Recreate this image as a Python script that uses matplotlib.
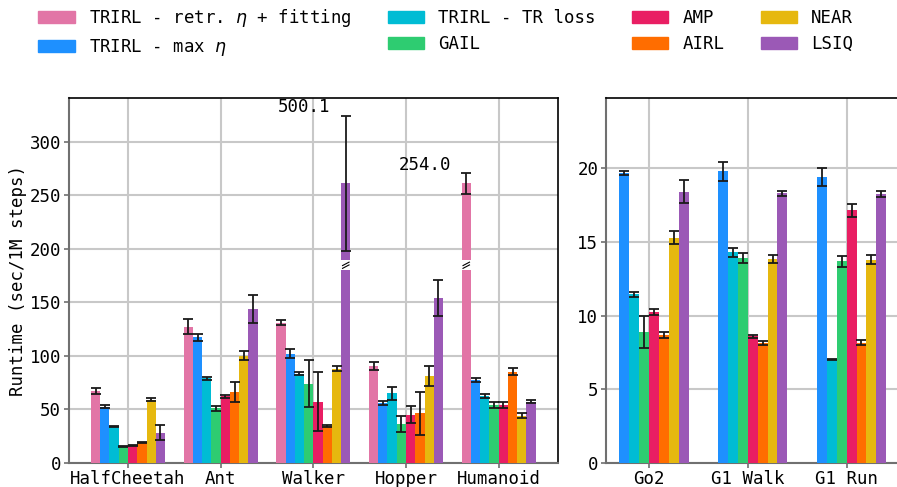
import numpy as np
import matplotlib.pyplot as plt

plt.rcParams['font.family'] = 'DejaVu Sans Mono'
plt.rcParams['mathtext.fontset'] = 'dejavusans'
plt.rcParams['font.size'] = 12.5

methods = ['TRIRL - retr. $\\eta$ + fitting', 'TRIRL - max $\\eta$', 'TRIRL - TR loss',
           'GAIL', 'AMP', 'AIRL', 'NEAR', 'LSIQ']
colors = ['#e275a6', '#1e90ff', '#00bcd4', '#2ecc71', '#e91e63', '#ff6d00', '#e6b80f', '#9b59b6']

# MuJoCo tasks (left panel)
left_envs = ['HalfCheetah', 'Ant', 'Walker', 'Hopper', 'Humanoid']
halfcheetah_mean = [67, 52.5, 34, 15, 16, 19, 59, 28]
halfcheetah_std = [2.5, 1, 0.7, 0.5, 0.5, 0.5, 1.5, 7]
ant_mean = [127, 117, 79, 51, 62, 66, 100, 144]
ant_std = [7, 3, 1.5, 2.3, 1.5, 9, 4, 13]
walker_mean = [131, 102, 83, 74, 57, 34.5, 88, 500.1]
walker_std = [2.3, 4, 1.5, 22, 27.5, 1, 2.3, 63]
hopper_mean = [90.5, 56, 65, 36, 45, 46, 81, 154]
hopper_std = [4, 2, 6, 7.3, 8, 20, 9, 17]
humanoid_mean = [254.0, 77, 62.5, 54, 54, 85, 44, 57]
humanoid_std = [9.5, 2, 2, 2.5, 3, 3.5, 2.3, 1.5]

# robot tasks (right panel), no retr. eta variant
right_envs = ['Go2', 'G1 Walk', 'G1 Run']
go2_mean = [np.nan, 19.7, 11.45, 8.9, 10.25, 8.7, 15.3, 18.4]
go2_std = [np.nan, 0.12, 0.17, 1.1, 0.2, 0.2, 0.44, 0.78]
g1_walk_mean = [np.nan, 19.8, 14.3, 13.9, 8.6, 8.15, 13.85, 18.3]
g1_walk_std = [np.nan, 0.65, 0.3, 0.33, 0.1, 0.15, 0.25, 0.16]
g1_run_mean = [np.nan, 19.4, 7.0, 13.7, 17.15, 8.15, 13.8, 18.25]
g1_run_std = [np.nan, 0.63, 0.05, 0.37, 0.45, 0.17, 0.3, 0.18]

# broken-axis display for very tall bars
BREAK_THRESHOLD = 200
BREAK_LOW, BREAK_HIGH, BREAK_TOP = 180, 189, 261

left_mean = np.array([halfcheetah_mean, ant_mean, walker_mean, hopper_mean, humanoid_mean])
left_std = np.array([halfcheetah_std, ant_std, walker_std, hopper_std, humanoid_std])
right_mean = np.array([go2_mean, g1_walk_mean, g1_run_mean])
right_std = np.array([go2_std, g1_walk_std, g1_run_std])

W, H = 897, 487
fig = plt.figure(figsize=(W / 100, H / 100), dpi=100)
ax_l = fig.add_axes([68.7 / W, (H - 462.7) / H, (558 - 68.7) / W, (462.7 - 98.3) / H])
ax_r = fig.add_axes([606 / W, (H - 462.7) / H, (898 - 606) / W, (462.7 - 98.3) / H])

width = 0.1
err_kw = dict(fmt='none', ecolor='#1a1a1a', elinewidth=1.3, capsize=3.3, capthick=1.3, zorder=4)


def draw_panel(ax, envs, means, stds):
    x = np.arange(len(envs))
    for i, (name, c) in enumerate(zip(methods, colors)):
        xs = x + (i - 3.5) * width
        for j in range(len(envs)):
            m, s = means[j, i], stds[j, i]
            if np.isnan(m):
                continue
            if m > BREAK_THRESHOLD:
                ax.bar(xs[j], BREAK_LOW, width, color=c, zorder=3)
                ax.bar(xs[j], BREAK_TOP - BREAK_HIGH, width, bottom=BREAK_HIGH, color=c, zorder=3)
                ax.errorbar(xs[j], BREAK_TOP, yerr=s, **err_kw)
                mid = (BREAK_LOW + BREAK_HIGH) / 2
                for dy in (-1.3, 1.3):
                    ax.plot([xs[j] - 0.035, xs[j] + 0.035], [mid + dy - 1.6, mid + dy + 1.6],
                            color='black', lw=0.8, zorder=5)
                ax.text(xs[j] - 0.45, BREAK_TOP + s + 8, f'{m:.1f}', ha='center', va='center')
            else:
                ax.bar(xs[j], m, width, color=c, zorder=3)
                ax.errorbar(xs[j], m, yerr=s, **err_kw)
    ax.set_xticks(x)
    ax.set_xticklabels(envs)
    ax.set_axisbelow(True)
    ax.grid(True, color='#c8c8c8', linewidth=1.5)
    for side in ('left', 'bottom'):
        ax.spines[side].set_color('#707070')
        ax.spines[side].set_linewidth(1.5)
    for side in ('top', 'right'):
        ax.spines[side].set_color('black')
        ax.spines[side].set_linewidth(1.2)
    ax.tick_params(axis='both', length=3.5, width=1.2, color='#707070', pad=2)


draw_panel(ax_l, left_envs, left_mean, left_std)
draw_panel(ax_r, right_envs, right_mean, right_std)

ax_l.set_xlim(-0.64, 4.64)
ax_l.set_ylim(0, 340.5)
ax_l.set_yticks(np.arange(0, 301, 50))
ax_l.set_ylabel('Runtime (sec/1M steps)', labelpad=2)

ax_r.set_xlim(-0.436, 2.52)
ax_r.set_ylim(0, 24.76)
ax_r.set_yticks(np.arange(0, 21, 5))

handles = [plt.Rectangle((0, 0), 1, 1, color=c) for c in colors]
fig.legend(handles, methods, loc='upper center', bbox_to_anchor=(0.497, 1.0), ncol=4,
           frameon=False, handlelength=2.1, columnspacing=2.1, borderaxespad=0.0,
           labelspacing=0.45)

fig.savefig('out.png', dpi=100)
